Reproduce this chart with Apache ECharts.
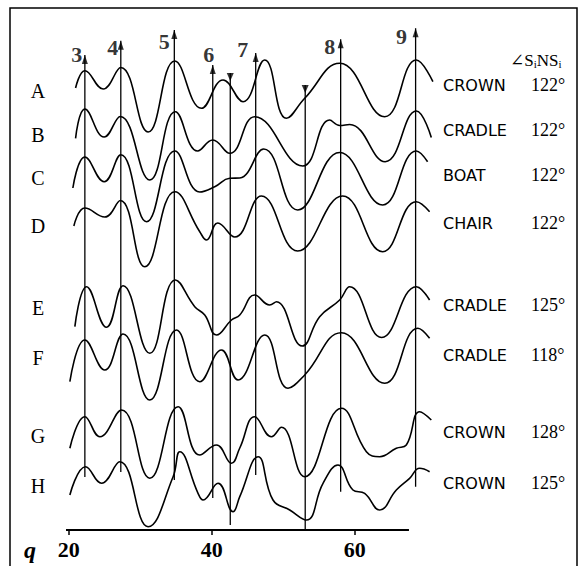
<!DOCTYPE html>
<html><head><meta charset="utf-8">
<script src="https://cdn.jsdelivr.net/npm/echarts@6/dist/echarts.min.js"></script>
<style>html,body{margin:0;padding:0;background:#fff}#c{width:582px;height:566px}</style>
</head><body><div id="c"></div>
<script>
// scattering vector q and (offset) intensity
const qA=[20.94,22.24,24.80,27.27,31.09,34.83,38.56,41.58,44.38,47.41,50.45,53.01,57.90,64.20,68.63,70.95];
const iA=[442,459.3,441,462.5,398,469,421.7,450,428.3,470,411.7,431.7,466.7,413.3,470,448.3];
const qB=[20.94,22.24,24.94,27.20,31.33,34.90,38.04,40.14,42.52,46.01,52.73,56.50,57.90,59.30,64.27,68.63,70.73];
const iB=[391.7,421,393,413.5,350,418.3,379,390,376.7,413.3,364,410,404.5,405.5,368.3,419,392.5];
const qC=[20.56,22.24,24.94,27.27,30.87,34.83,38.32,40.42,42.52,43.92,47.27,52.03,57.90,63.92,68.63,70.21];
const iC=[342,373,348.3,375.3,308.3,379,338,343.3,351.7,352,381,320,377.5,325,379,368.3];
const qD=[20.70,22.24,25.03,27.20,30.63,34.83,38.32,39.26,40.84,43.22,46.95,52.03,58.32,63.92,68.63,70.49];
const iD=[304,322,313,329.5,263.3,338.3,298.3,290,307,293,334,279,334,278.3,328.3,318.3];
const qE=[20.84,22.48,25.27,27.59,31.33,34.92,37.62,39.02,40.66,42.76,43.92,46.01,48.11,49.05,52.66,55.10,57.90,59.30,63.78,68.63,70.49];
const iE=[203.3,243.3,202.7,244.3,176.7,250,223.3,215,195,210,215,235,225,228.3,184,213.3,230,243.3,192.5,243.3,230];
const qF=[20.14,22.24,25.03,27.59,31.33,35.06,38.32,41.36,43.68,47.41,50.67,53.01,58.14,64.20,68.85,70.49];
const iF=[148.3,190,160,196,130,200,148.3,180,150,195,141.7,155,197.3,146.7,201.7,191.7];
const qG=[20.14,22.24,24.34,27.37,31.33,35.29,38.32,40.66,42.76,43.92,46.01,48.35,49.75,53.01,58.14,61.64,63.50,65.83,67.23,69.09,70.73];
const iG=[81.7,113.3,93.3,120,51.7,123.3,75,85,66.7,82,113.3,93.3,102.7,53.3,121.7,78.3,73.3,81.7,85,118.3,110];
const qH=[20.14,22.34,24.57,27.13,31.09,34.59,35.52,38.08,38.78,40.88,42.98,43.92,46.48,48.57,50.91,53.24,55.57,57.66,59.76,61.40,63.50,65.83,67.69,69.09,70.49];
const iH=[35,63.3,46.7,68.3,3.3,53.3,78.3,36.7,30,46.7,18.3,33.3,73.3,30,20,10,46.7,65,40,36.7,20,40,51.7,61.7,58.3];

const curveNames=['A','B','C','D','E','F','G','H'];
const conformers=['CROWN','CRADLE','BOAT','CHAIR','CRADLE','CRADLE','CROWN','CROWN'];
const angles=['122°','122°','122°','122°','125°','118°','128°','125°'];

const peakLabels=['3','4','5','6','7','8','9'];
const peakQ=[22.24,27.27,34.76,40.14,46.15,58.04,68.53];
const peakTop=[475,489.3,500,465,477,490.7,501.7];
const peakBottom=[53,58,50,32,55,38.3,43.3];
const markQ=[42.59,53.08];
const markTop=[457,445];
const markBottom=[5,0];
const xTicks=[20,40,60];
const axisRange=[19.6,67.6];

// ---- styling / layout (not data) ----
const qs=[qA,qB,qC,qD,qE,qF,qG,qH], is=[iA,iB,iC,iD,iE,iF,iG,iH];
const labelY=[91,135,178,226,308,358,436,486];
const rightY=[85,130,175,223,305,355,432,483];
const numOffsets=[[-8,-5],[-8,2],[-10,7],[-4,-15],[-13,-8],[-11,3],[-14,4]];
const serif='"Liberation Serif","DejaVu Serif",serif';
const hand='"DejaVu Sans","Liberation Sans",sans-serif';

const series=[];
qs.forEach((q,k)=>{
  series.push({type:'line',data:q.map((x,j)=>[x,is[k][j]]),smooth:0.45,symbol:'none',clip:false,silent:true,
    lineStyle:{color:'#000',width:1.6}});
});
peakQ.forEach((x,k)=>{
  series.push({type:'line',data:[[x,peakBottom[k]],[x,peakTop[k]]],symbol:'none',clip:false,silent:true,
    lineStyle:{color:'#000',width:1.3}});
});
markQ.forEach((x,k)=>{
  series.push({type:'line',data:[[x,markBottom[k]],[x,markTop[k]]],symbol:'none',clip:false,silent:true,
    lineStyle:{color:'#000',width:1.3}});
});
// the q axis line (drawn only over its own range)
series.push({type:'line',data:[[axisRange[0],0],[axisRange[1],0]],symbol:'none',clip:false,silent:true,
  lineStyle:{color:'#000',width:1.8}});
series.push({type:'scatter',clip:false,silent:true,symbol:'triangle',symbolSize:[6,9],symbolOffset:[0,'50%'],
  itemStyle:{color:'#000'},
  data:peakQ.map((x,k)=>({value:[x,peakTop[k]],name:peakLabels[k],
    label:{show:true,formatter:peakLabels[k],position:'inside',offset:numOffsets[k],
      fontFamily:serif,fontWeight:'bold',fontSize:22,color:'#000'}}))});
series.push({type:'scatter',clip:false,silent:true,symbol:'triangle',symbolRotate:180,symbolSize:[7,8],symbolOffset:[0,'50%'],
  itemStyle:{color:'#000'},data:markQ.map((x,k)=>[x,markTop[k]])});

const graphic=[
  {type:'rect',shape:{x:10,y:8,width:567,height:570},style:{fill:'none',stroke:'#000',lineWidth:1.5},silent:true},
  {type:'text',left:510,top:52,style:{rich:{s:{fontSize:11,fontFamily:serif,padding:[7,0,0,0]}},
    text:'∠S{s|i}NS{s|i}',fontFamily:serif,fontSize:17,fill:'#000'}},
  {type:'text',left:24,top:538,style:{text:'q',fontFamily:serif,fontStyle:'italic',fontWeight:'bold',fontSize:24,fill:'#000'}}
];
curveNames.forEach((n,k)=>{
  graphic.push({type:'text',x:38,y:labelY[k],style:{text:n,fontFamily:serif,fontSize:20,fill:'#000',align:'center',verticalAlign:'middle'}});
  graphic.push({type:'text',x:443,y:rightY[k],style:{text:conformers[k],fontFamily:hand,fontSize:16,fill:'#000',verticalAlign:'middle'}});
  graphic.push({type:'text',x:531,y:rightY[k],style:{text:angles[k],fontFamily:serif,fontSize:18,fill:'#000',verticalAlign:'middle'}});
});

const chart=echarts.init(document.getElementById('c'),null,{renderer:'svg'});
chart.setOption({
  animation:false,
  backgroundColor:'#fff',
  grid:{left:66,right:141.6,top:20,bottom:36},
  xAxis:{type:'value',min:19.6,max:72,
    axisLine:{show:false},
    axisTick:{show:true,customValues:xTicks,length:5,lineStyle:{color:'#000',width:1.5}},
    axisLabel:{customValues:xTicks,color:'#000',fontFamily:serif,fontWeight:'bold',fontSize:22,margin:8},
    splitLine:{show:false}},
  yAxis:{type:'value',min:0,max:510,show:false},
  graphic:graphic,
  series:series
});
</script></body></html>
